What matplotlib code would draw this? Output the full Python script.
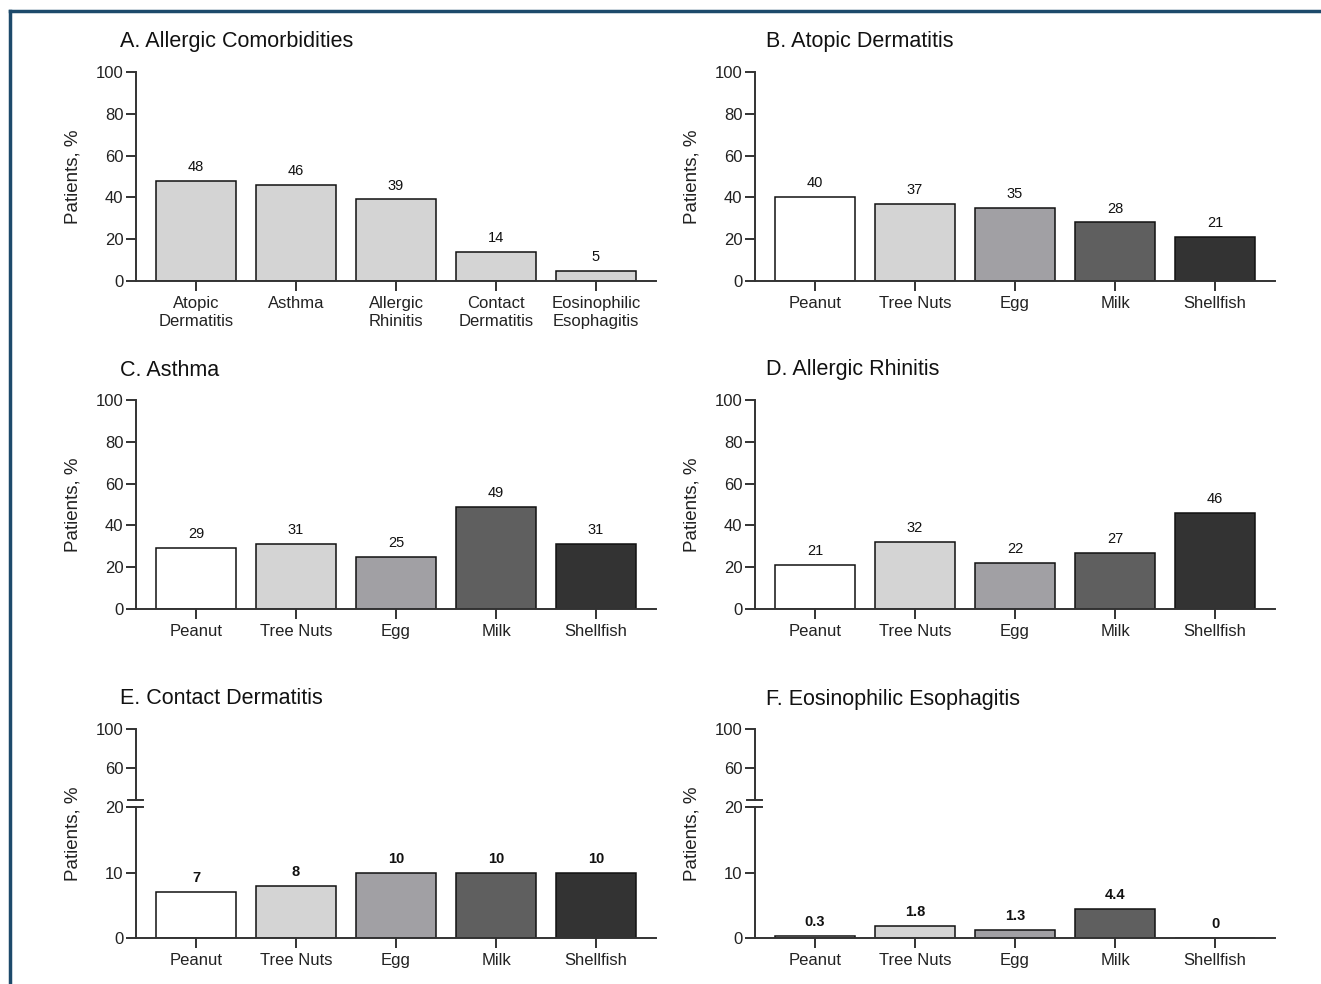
import numpy as np
import matplotlib
matplotlib.use("Agg")
import matplotlib.pyplot as plt
from matplotlib.lines import Line2D
import matplotlib.transforms as mtransforms

plt.rcParams['font.family'] = ['Liberation Sans', 'DejaVu Sans']

comorbidities = ["Atopic\nDermatitis", "Asthma", "Allergic\nRhinitis",
                 "Contact\nDermatitis", "Eosinophilic\nEsophagitis"]
foods = ["Peanut", "Tree Nuts", "Egg", "Milk", "Shellfish"]

vals_a = [48, 46, 39, 14, 5]
vals_b = [40, 37, 35, 28, 21]
vals_c = [29, 31, 25, 49, 31]
vals_d = [21, 32, 22, 27, 46]
vals_e = [7, 8, 10, 10, 10]
vals_f = [0.3, 1.8, 1.3, 4.4, 0]

titles = ["A. Allergic Comorbidities", "B. Atopic Dermatitis", "C. Asthma",
          "D. Allergic Rhinitis", "E. Contact Dermatitis", "F. Eosinophilic Esophagitis"]

food_colors = ["#ffffff", "#d4d4d4", "#a1a0a4", "#5f5f5f", "#333333"]
spine_col = "#333333"

W, H = 1321, 984
fig = plt.figure(figsize=(W / 100, H / 100), dpi=100)

# frame lines (top and left)
fig.add_artist(Line2D([10 / W, 1], [1 - 11 / H, 1 - 11 / H], color="#1d4a6b", lw=2.5))
fig.add_artist(Line2D([10 / W, 10 / W], [0, 1 - 11 / H], color="#1d4a6b", lw=2.5))


def fwd(y):
    y = np.asarray(y, dtype=float)
    return np.where(y <= 20, y, 20 + (y - 20) * 0.15)


def inv(f):
    f = np.asarray(f, dtype=float)
    return np.where(f <= 20, f, 20 + (f - 20) / 0.15)


panels = [
    (vals_a, comorbidities, ["#d4d4d4"] * 5, False),
    (vals_b, foods, food_colors, False),
    (vals_c, foods, food_colors, False),
    (vals_d, foods, food_colors, False),
    (vals_e, foods, food_colors, True),
    (vals_f, foods, food_colors, True),
]

lefts = [136, 755]
bottoms = [281, 609, 938]
ax_w, ax_h = 520, 209

for i, (vals, cats, cols, broken) in enumerate(panels):
    row, col = divmod(i, 2)
    ax = fig.add_axes([lefts[col] / W, 1 - bottoms[row] / H, ax_w / W, ax_h / H])
    x = np.arange(len(vals))
    ax.bar(x, vals, width=0.8, color=cols, edgecolor="#111111", linewidth=1.1, zorder=2)
    ax.set_xlim(-0.6, 4.6)
    if broken:
        ax.set_yscale('function', functions=(fwd, inv))
        ax.set_ylim(0, 100)
        ax.set_yticks([0, 10, 20, 60, 100])
    else:
        ax.set_ylim(0, 100)
        ax.set_yticks([0, 20, 40, 60, 80, 100])
    ax.set_xticks(x)
    ax.set_xticklabels(cats, fontsize=12, linespacing=1.2)
    ax.tick_params(axis='both', labelsize=12, colors=spine_col, labelcolor="#222222",
                   width=1.4, length=7, direction='out')
    ax.tick_params(axis='x', pad=4)
    ax.tick_params(axis='y', pad=2)
    for s in ["top", "right"]:
        ax.spines[s].set_visible(False)
    for s in ["left", "bottom"]:
        ax.spines[s].set_color(spine_col)
        ax.spines[s].set_linewidth(1.4)
    ax.set_ylabel("Patients, %", fontsize=13.5, color="#222222")
    ax.yaxis.set_label_coords(-0.105, 0.5)
    for xi, v in zip(x, vals):
        ax.annotate(f"{v:g}", (xi, v), xytext=(0, 5), textcoords="offset points",
                    ha="center", va="bottom", fontsize=10.5,
                    fontweight="bold" if broken else "normal", color="#111111")
    if broken:
        ax.spines["left"].set_visible(False)
        trans = mtransforms.blended_transform_factory(ax.transAxes, ax.transData)
        ax.plot([0, 0], [0, 20], color=spine_col, lw=1.4, transform=trans, clip_on=False)
        ax.plot([0, 0], [27.3, 100], color=spine_col, lw=1.4, transform=trans, clip_on=False)
        for yb in [20, 27.3]:
            ax.plot([-0.016, 0.014], [yb, yb], color=spine_col, lw=1.4,
                    transform=trans, clip_on=False)
    title_x = 120 if col == 0 else 766
    title_y = [42, 370, 699][row]
    fig.text(title_x / W, 1 - title_y / H, titles[i], fontsize=15.5, ha="left",
             va="center", color="#111111")

fig.savefig("out.png", dpi=100)
